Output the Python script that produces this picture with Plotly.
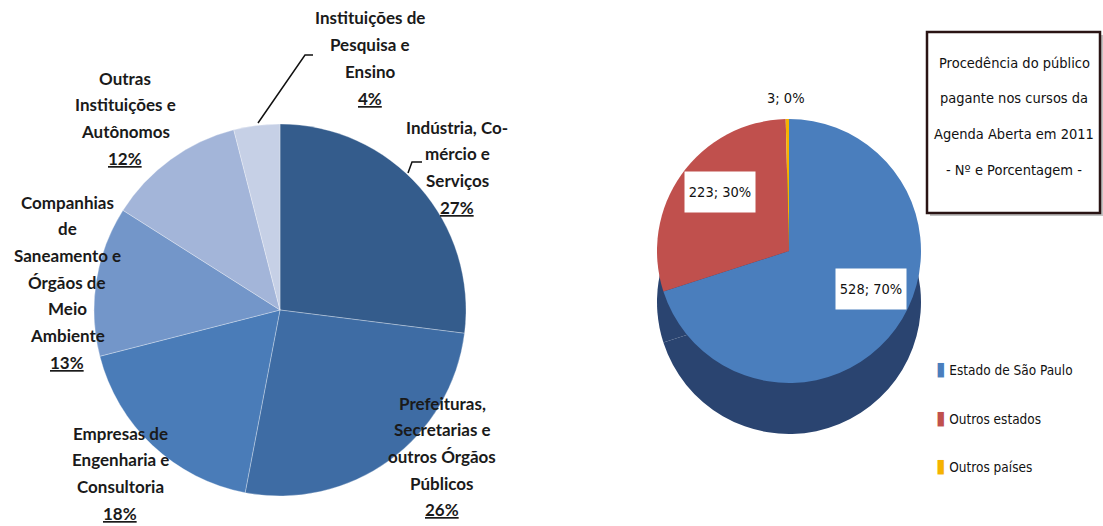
import plotly.graph_objects as go

# ---------------- data ----------------
left_categories = [
    "Indústria, Co-<br>mércio e<br>Serviços",
    "Prefeituras,<br>Secretarias e<br>outros Órgãos<br>Públicos",
    "Empresas de<br>Engenharia e<br>Consultoria",
    "Companhias<br>de<br>Saneamento e<br>Órgãos de<br>Meio<br>Ambiente",
    "Outras<br>Instituições e<br>Autônomos",
    "Instituições de<br>Pesquisa e<br>Ensino",
]
left_pct = [27, 26, 18, 13, 12, 4]
left_colors = ["#345c8c", "#3e6ca4", "#4a7cb8", "#7396c9", "#a3b5d9", "#c6d0e6"]

right_categories = ["Estado de São Paulo", "Outros estados", "Outros países"]
right_values = [528, 223, 3]
right_colors = ["#4a7ebd", "#c0504d", "#f5b300"]
side_color = "#2a4470"

title_lines = ["Procedência do público", "pagante nos cursos da",
               "Agenda Aberta em 2011", "- Nº e Porcentagem -"]

W, H = 1103, 526


def px(x):
    return x / W


def py(y):
    return 1 - y / H


def dom(cx, cy, r):
    return dict(x=[px(cx - r), px(cx + r)], y=[py(cy + r), py(cy - r)])


fig = go.Figure()

# left pie
fig.add_trace(go.Pie(
    labels=left_categories, values=left_pct, sort=False, direction="clockwise",
    rotation=0, textinfo="none", showlegend=False,
    marker=dict(colors=left_colors, line=dict(color="rgba(255,255,255,0.5)", width=0.6)),
    domain=dom(280, 310, 186), hovertemplate="%{label}: %{value}%<extra></extra>",
))

# right pie: side (depth) drawn as an offset copy, then top face
fig.add_trace(go.Pie(
    labels=right_categories, values=right_values, sort=False, direction="clockwise",
    rotation=0, textinfo="none", showlegend=False, hoverinfo="skip",
    marker=dict(colors=[side_color] * len(right_values), line=dict(width=0)),
    domain=dom(789, 302, 132),
))
fig.add_trace(go.Pie(
    labels=right_categories, values=right_values, sort=False, direction="clockwise",
    rotation=0, textinfo="none", showlegend=False,
    marker=dict(colors=right_colors, line=dict(width=0)),
    domain=dom(789, 251, 132),
))

annotations = []
LFONT = dict(family="Lato, Open Sans, sans-serif", size=17, color="#1a1a1a", weight="bold")
NARROW = "DejaVu Sans Condensed, Liberation Sans Narrow, Roboto Condensed, Arial Narrow, sans-serif"

# left pie labels, line by line
label_pos = [(457, 127), (442, 403), (120, 433), (67, 202), (125, 78), (370, 18)]
for cat, pct, (lx, ly) in zip(left_categories, left_pct, label_pos):
    lines = cat.split("<br>") + [f"<u>{pct}%</u>"]
    for i, t in enumerate(lines):
        annotations.append(dict(
            x=px(lx), y=py(ly + i * 26.7), xref="paper", yref="paper",
            text=t, showarrow=False, xanchor="center", yanchor="middle",
            font=LFONT,
        ))

# right pie data labels
total = sum(right_values)
NFONT = dict(family=NARROW, size=14.5, color="#111111")
rlab_pos = [(871, 289, True), (720, 192, True), (786, 98, False)]
for v, (lx, ly, boxed) in zip(right_values, rlab_pos):
    a = dict(x=px(lx), y=py(ly), xref="paper", yref="paper",
             text=f"{v}; {round(100 * v / total)}%", showarrow=False,
             xanchor="center", yanchor="middle", font=NFONT)
    if boxed:
        a.update(bgcolor="white", borderpad=2, width=66, height=36)
    annotations.append(a)

# title box text
TFONT = dict(family=NARROW, size=14.5, color="#111111")
for i, t in enumerate(title_lines):
    annotations.append(dict(
        x=px(1014), y=py(63 + i * 35.5), xref="paper", yref="paper", text=t,
        showarrow=False, xanchor="center", yanchor="middle", font=TFONT,
    ))

# legend (manual)
LEGFONT = dict(family=NARROW, size=13.5, color="#111111")
for i, (c, col) in enumerate(zip(right_categories, right_colors)):
    annotations.append(dict(
        x=px(934), y=py(368 + i * 48.5), xref="paper", yref="paper",
        text=f'<span style="color:{col};font-size:19px">▮</span> {c}', showarrow=False,
        xanchor="left", yanchor="middle", font=LEGFONT,
    ))

shapes = [
    # title box shadow and box
    dict(type="rect", xref="paper", yref="paper", x0=px(930), x1=px(1103), y0=py(216), y1=py(35),
         line=dict(width=0), fillcolor="rgba(120,120,120,0.45)", layer="below"),
    dict(type="rect", xref="paper", yref="paper", x0=px(927), x1=px(1100), y0=py(213), y1=py(32),
         line=dict(color="#2a1414", width=2.5), fillcolor="white", layer="below"),
    # leader lines
    dict(type="path", xref="paper", yref="paper",
         path=f"M {px(258)} {py(123)} L {px(305)} {py(55)} L {px(313)} {py(55)}",
         line=dict(color="#111111", width=1.5)),
    dict(type="path", xref="paper", yref="paper",
         path=f"M {px(408)} {py(173)} L {px(412)} {py(162)} L {px(422)} {py(162)}",
         line=dict(color="#111111", width=1.5)),
]

fig.update_layout(
    width=W, height=H, margin=dict(l=0, r=0, t=0, b=0),
    paper_bgcolor="white", plot_bgcolor="white",
    annotations=annotations, shapes=shapes, showlegend=False,
)

fig.write_html(
    "out.html",
    config={"displayModeBar": False},
    post_script="document.body.style.margin='0';document.body.style.overflow='hidden';",
)
